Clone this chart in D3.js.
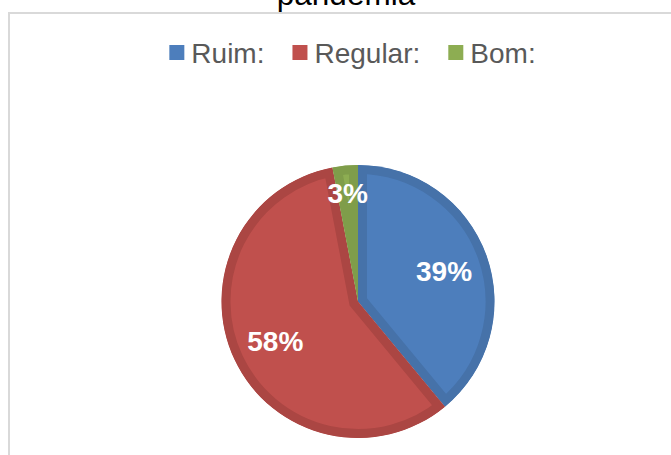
<!DOCTYPE html>
<html>
<head>
<meta charset="utf-8">
<script src="https://cdn.jsdelivr.net/npm/d3@7"></script>
<style>
  body { margin: 0; background: #fff; overflow: hidden; }
  svg { display: block; font-family: "Liberation Sans", Arial, sans-serif; }
</style>
</head>
<body>
<div id="chart"></div>
<script>
// Dados do gráfico
var categorias = ["Ruim:", "Regular:", "Bom:"];
var valores = [39, 58, 3];
var coresFill = ["#4d7ebc", "#c0504d", "#8dad52"];
var coresBorda = ["#4672a9", "#ab4643", "#7f9d4a"];
var titulo = "pandemia";

var width = 671, height = 455;

var svg = d3.select("#chart")
    .append("svg")
    .attr("width", width)
    .attr("height", height);

// Moldura da área do gráfico
svg.append("rect")
    .attr("x", 9)
    .attr("y", 13)
    .attr("width", 800)
    .attr("height", 600)
    .attr("fill", "none")
    .attr("stroke", "#d9d9d9")
    .attr("stroke-width", 2);

// Título (cortado no topo)
svg.append("text")
    .attr("x", 346)
    .attr("y", 5)
    .attr("text-anchor", "middle")
    .style("font-size", "31.5px")
    .style("fill", "#000")
    .text(titulo);

// Legenda
var legenda = svg.append("g").attr("class", "legenda");
var xPos = 0;
categorias.forEach(function(c, i) {
    var item = legenda.append("g").attr("transform", "translate(" + xPos + ",0)");
    item.append("rect")
        .attr("x", 0)
        .attr("y", 45)
        .attr("width", 15)
        .attr("height", 15)
        .attr("fill", coresFill[i]);
    var t = item.append("text")
        .attr("x", 22)
        .attr("y", 63)
        .style("font-size", "28px")
        .style("fill", "#595959")
        .text(c);
    xPos += 22 + t.node().getComputedTextLength() + 28;
});
var larguraLegenda = xPos - 28;
legenda.attr("transform", "translate(" + (352.5 - larguraLegenda / 2) + ",0)");

// Pizza
var cx = 358, cy = 301.5, raio = 136.5;
var g = svg.append("g").attr("transform", "translate(" + cx + "," + cy + ")");

var pie = d3.pie().sort(null).value(function(d) { return d; });
var arcos = pie(valores);
var arc = d3.arc().innerRadius(0).outerRadius(raio);

var defs = svg.append("defs");
arcos.forEach(function(a, i) {
    defs.append("clipPath")
        .attr("id", "clip" + i)
        .append("path")
        .attr("d", arc(a));
});

g.selectAll("path.fatia")
    .data(arcos)
    .enter().append("path")
    .attr("class", "fatia")
    .attr("d", arc)
    .attr("clip-path", function(d, i) { return "url(#clip" + i + ")"; })
    .attr("fill", function(d, i) { return coresFill[i]; })
    .attr("stroke", function(d, i) { return coresBorda[i]; })
    .attr("stroke-width", 18)
    .attr("stroke-linejoin", "miter");

// Rótulos de porcentagem
var total = d3.sum(valores);
g.selectAll("text.rotulo")
    .data(arcos)
    .enter().append("text")
    .attr("class", "rotulo")
    .attr("transform", function(d) {
        var ang = (d.startAngle + d.endAngle) / 2;
        var r = (d.endAngle - d.startAngle) < 0.5 ? raio * 0.8 : raio * 0.67;
        return "translate(" + (Math.sin(ang) * r) + "," + (-Math.cos(ang) * r) + ")";
    })
    .attr("text-anchor", "middle")
    .attr("dy", "0.36em")
    .style("font-size", "28px")
    .style("font-weight", "bold")
    .style("fill", "#fff")
    .text(function(d) { return Math.round(d.value / total * 100) + "%"; });
</script>
</body>
</html>
